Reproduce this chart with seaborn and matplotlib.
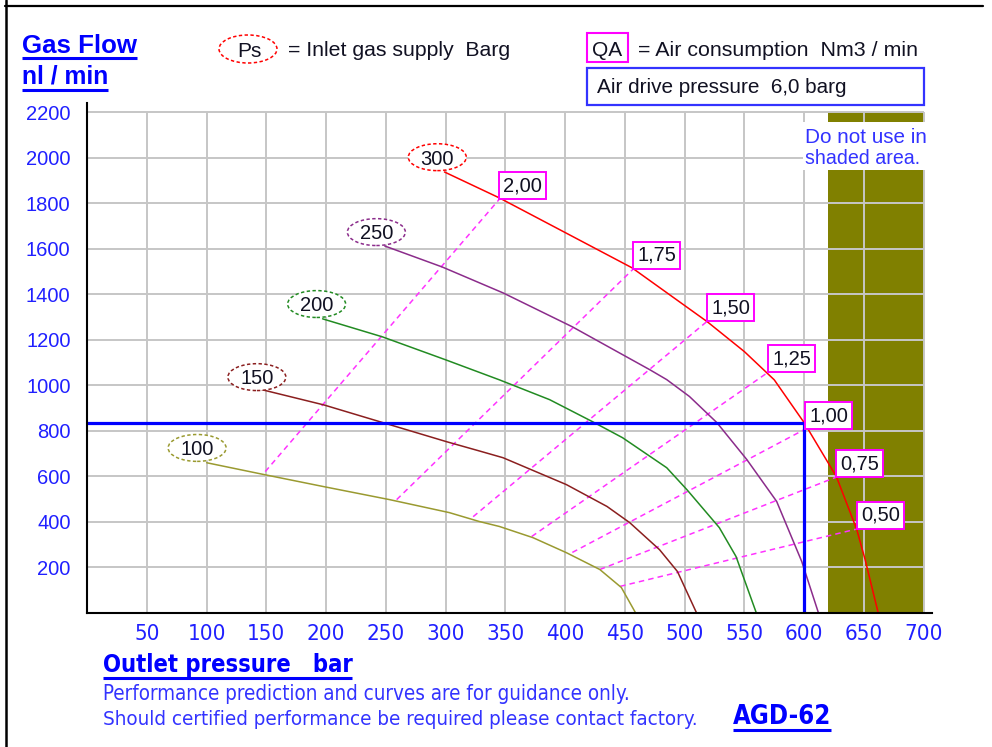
import numpy as np
import pandas as pd
import matplotlib
matplotlib.use("Agg")
import matplotlib.pyplot as plt
import seaborn as sns
from matplotlib.patches import Ellipse, Rectangle
from matplotlib.lines import Line2D
from matplotlib import font_manager
from matplotlib.font_manager import FontProperties

# ---------------- data ----------------
ps_labels = ["100", "150", "200", "250", "300"]
ps100_x = [100, 148, 198, 253, 303, 328, 345, 373, 401, 429, 447, 459]
ps100_y = [660, 608, 555, 498, 441, 402, 380, 331, 265, 191, 112, 0]
ps150_x = [143, 198, 245, 301, 328, 348, 401, 435, 454, 479, 494, 510]
ps150_y = [985, 914, 840, 752, 712, 682, 564, 468, 397, 278, 182, 0]
ps200_x = [197, 247, 300, 345, 387, 423, 448, 485, 502, 529, 543, 560]
ps200_y = [1292, 1213, 1112, 1024, 937, 840, 770, 638, 541, 375, 248, 0]
ps250_x = [249, 297, 348, 406, 471, 485, 504, 527, 552, 577, 598, 612]
ps250_y = [1612, 1520, 1406, 1257, 1068, 1025, 951, 836, 674, 490, 226, 0]
ps300_x = [299, 345, 400, 456, 519, 550, 575, 600, 627, 644, 651, 662]
ps300_y = [1937, 1823, 1671, 1516, 1279, 1148, 1024, 836, 599, 367, 235, 0]

# Ps label ellipse centres (pressure, flow)
ps_label_x = [92, 142, 192, 242, 293]
ps_label_y = [725, 1036, 1357, 1673, 2002]

# Air consumption (QA) lines: start on Ps=100 curve, end on Ps=300 curve
qa_labels = ["2,00", "1,75", "1,50", "1,25", "1,00", "0,75", "0,50"]
qa_start_x = [149, 259, 323, 372, 406, 429, 446]
qa_start_y = [621, 498, 423, 336, 266, 191, 117]
qa_end_x = [345, 457, 519, 570, 601, 627, 644]
qa_end_y = [1818, 1511, 1282, 1058, 808, 597, 369]

# operating point example
target_pressure = 600
target_flow = 835

# do-not-use region
shade_from = 620
shade_to = 700

x_ticks = list(range(50, 701, 50))
y_ticks = list(range(200, 2201, 200))

curve_colors = ["#9A9A30", "#8B1F1F", "#228B22", "#8B2C8B", "#FF0000"]

# ---------------- figure ----------------
W, H = 992, 747
sns.set_style("white")
REG = ["Liberation Sans", "DejaVu Sans"]
plt.rcParams["font.family"] = REG

# look for a narrow/condensed face (optional)
narrow_path = None
for f in font_manager.fontManager.ttflist:
    fn = f.fname.lower()
    if "liberationsansnarrow-regular" in fn:
        narrow_path = f.fname
        break
if narrow_path is None:
    for f in font_manager.fontManager.ttflist:
        fn = f.fname.lower()
        if fn.endswith("dejavusanscondensed.ttf"):
            narrow_path = f.fname
            break
narrow_bold_path = None
for f in font_manager.fontManager.ttflist:
    fn = f.fname.lower()
    if "liberationsansnarrow-bold." in fn or fn.endswith("dejavusanscondensed-bold.ttf"):
        narrow_bold_path = f.fname
        break

fig = plt.figure(figsize=(W / 100, H / 100), dpi=100)
fig.patch.set_facecolor("white")
ax = fig.add_axes([87.2 / W, (H - 613) / H, (932 - 87.2) / W, (613 - 103) / H])
ax.set_facecolor("white")

xs_all = [ps100_x, ps150_x, ps200_x, ps250_x, ps300_x]
ys_all = [ps100_y, ps150_y, ps200_y, ps250_y, ps300_y]
df = pd.concat(
    [pd.DataFrame({"pressure": xs, "flow": ys, "ps": lab})
     for xs, ys, lab in zip(xs_all, ys_all, ps_labels)],
    ignore_index=True,
)
palette = dict(zip(ps_labels, curve_colors))

ax.set_xlim(0, 707)
ax.set_ylim(0, 2240)

# shaded area + grid
ax.add_patch(Rectangle((shade_from, 0), shade_to - shade_from, 2200,
                       facecolor="#808000", edgecolor="none", zorder=0.3))
ax.vlines(x_ticks, 0, 2200, color="#C6C6C6", lw=1.4, zorder=0.5)
ax.hlines(y_ticks, 0, 700, color="#C6C6C6", lw=1.4, zorder=0.5)
ax.add_patch(Rectangle((599, 1946), 102, 210, facecolor="white",
                       edgecolor="none", zorder=0.8))

sns.lineplot(data=df, x="pressure", y="flow", hue="ps", palette=palette,
             sort=False, estimator=None, legend=False, linewidth=1.1,
             ax=ax, zorder=3)

# QA dashed lines + boxes
box_w, box_h = 39.3, 118.6
for sx, sy, ex, ey, lab in zip(qa_start_x, qa_start_y, qa_end_x, qa_end_y, qa_labels):
    ax.plot([sx, ex], [sy, ey], color="#FF33FF", lw=1.1,
            linestyle=(0, (3.6, 2.7)), zorder=2.5)
    ax.add_patch(Rectangle((ex, ey), box_w, box_h, facecolor="white",
                           edgecolor="#FF00FF", lw=1.4, zorder=5))
    ax.text(ex + box_w / 2, ey + box_h / 2, lab, ha="center", va="center",
            fontsize=14.5, color="#111122", zorder=6)

# Ps ellipses
for lx, ly, lab, c in zip(ps_label_x, ps_label_y, ps_labels, curve_colors):
    ax.add_patch(Ellipse((lx, ly), 48.5, 118, facecolor="white", edgecolor=c,
                         lw=1.1, linestyle=(0, (2.2, 1.6)), zorder=5))
    ax.text(lx, ly - 8, lab, ha="center", va="center", fontsize=14.5,
            color="#111122", zorder=6)

# target lines
ax.plot([0, target_pressure], [target_flow, target_flow], color="#0000FF",
        lw=2.3, zorder=4, solid_capstyle="butt")
ax.plot([target_pressure, target_pressure], [0, target_flow], color="#0000FF",
        lw=2.3, zorder=4, solid_capstyle="butt")

# axes styling
for s in ["top", "right"]:
    ax.spines[s].set_visible(False)
for s in ["left", "bottom"]:
    ax.spines[s].set_color("black")
    ax.spines[s].set_linewidth(1.5)
    ax.spines[s].set_zorder(7)
ax.set_xticks(x_ticks)
ax.set_yticks(y_ticks)
ax.set_xticklabels([str(v) for v in x_ticks])
ax.set_yticklabels([str(v) for v in y_ticks])
tick_col = "#2020FF"
ax.tick_params(axis="y", direction="out", length=6.5, width=1.5, color=tick_col,
               labelcolor=tick_col, pad=5.5, labelsize=14.5)
ax.tick_params(axis="x", direction="out", length=4.3, width=1.5, color=tick_col,
               labelcolor=tick_col, pad=3.5, labelsize=13.8)
if narrow_path is not None:
    for t in ax.get_xticklabels():
        t.set_fontproperties(FontProperties(fname=narrow_path, size=16))
ax.set_xlabel("")
ax.set_ylabel("")
ax.grid(False)

# ---------------- figure texts ----------------
renderer = fig.canvas.get_renderer()


def fx(x):
    return x / W


def fy(y):
    return 1 - y / H


def fit_text(s, x0, x1, base_y, color, weight="normal", fpath=None, underline=None, ul_lw=2.2):
    t = fig.text(fx(x0), fy(base_y), s, fontsize=10, color=color, fontweight=weight,
                 family=REG, ha="left", va="baseline")
    if fpath is not None:
        t.set_fontproperties(FontProperties(fname=fpath, size=10))
    for _ in range(2):
        bb = t.get_window_extent(renderer)
        t.set_fontsize(t.get_fontsize() * (x1 - x0) / bb.width)
    if underline is not None:
        fig.add_artist(Line2D([fx(x0), fx(x1)], [fy(underline)] * 2, color=color,
                              lw=ul_lw, solid_capstyle="butt"))
    return t


blue = "#0000FF"
fit_text("Gas Flow", 22, 137, 53, blue, "bold", underline=58)
fit_text("nl / min", 22, 108, 83, blue, "bold", underline=89.5)

# Ps legend
fig.add_artist(Ellipse((fx(248), fy(49)), 58 / W, 28 / H, transform=fig.transFigure,
                       facecolor="none", edgecolor="red", lw=1.1, linestyle=(0, (2.2, 1.6))))
fig.text(fx(249), fy(57), "Ps", fontsize=15, color="#111122", ha="center", va="baseline")
fit_text("= Inlet gas supply  Barg", 288, 510, 55.5, "#111122")

# QA legend
fig.add_artist(Rectangle((fx(587), fy(62)), 41 / W, 29 / H, transform=fig.transFigure,
                         facecolor="none", edgecolor="#FF00FF", lw=1.5))
fig.text(fx(607.5), fy(56), "QA", fontsize=15, color="#111122", ha="center", va="baseline")
fit_text("= Air consumption  Nm3 / min", 638, 917, 56, "#111122")

fig.add_artist(Rectangle((fx(587), fy(105)), 337 / W, 37 / H, transform=fig.transFigure,
                         facecolor="none", edgecolor="#3333FF", lw=1.6))
fit_text("Air drive pressure  6,0 barg", 597, 847, 93, "#111122")

fit_text("Do not use in", 805, 927, 143, "#3333FF")
fit_text("shaded area.", 805, 920, 164, "#3333FF")

fit_text("Outlet pressure   bar", 103, 352, 672, blue, "bold", narrow_bold_path, underline=677.5)
fit_text("Performance prediction and curves are for guidance only.", 103, 630, 700, "#3333FF", "normal", narrow_path)
fit_text("Should certified performance be required please contact factory.", 103, 697, 725, "#3333FF", "normal", narrow_path)
fit_text("AGD-62", 733, 831, 724, blue, "bold", narrow_bold_path, underline=729.5)

# page borders
fig.add_artist(Line2D([fx(6), fx(6)], [0, 1], color="black", lw=1.8))
fig.add_artist(Line2D([fx(5), fx(983)], [fy(6), fy(6)], color="black", lw=1.6))

fig.savefig("out.png", dpi=100, facecolor="white")
